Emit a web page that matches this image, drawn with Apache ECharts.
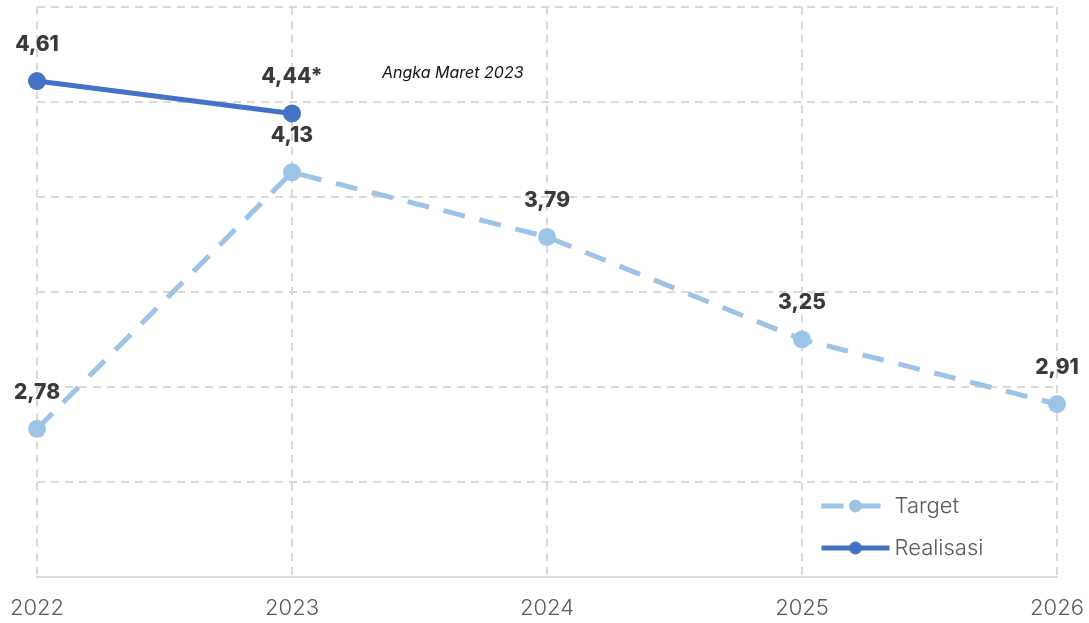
<!DOCTYPE html>
<html>
<head>
<meta charset="utf-8">
<script src="https://cdn.jsdelivr.net/npm/echarts@6/dist/echarts.min.js"></script>
<style>
html, body { margin: 0; padding: 0; background: #fff; }
#chart { width: 1089px; height: 623px; }
</style>
</head>
<body>
<div id="chart"></div>
<script>
var years = ['2022', '2023', '2024', '2025', '2026'];
var target = [2.78, 4.13, 3.79, 3.25, 2.91];
var realisasi = [4.61, 4.44, null, null, null];

var myChart = echarts.init(document.getElementById('chart'));
var font = 'Inter, "Open Sans", sans-serif';

function fmt(v) {
	return v.toFixed(2).replace('.', ',');
}

var labelStyle = {
	show: true,
	position: 'top',
	distance: 17,
	fontFamily: font,
	fontWeight: 800,
	fontSize: 21,
	color: '#3a3a3a'
};

option = {
	grid: {
		left: 37,
		right: 32,
		top: 7,
		bottom: 46
	},
	//图例
	legend: {
		orient: 'vertical',
		left: 814,
		top: 490,
		itemWidth: 68,
		itemHeight: 16,
		itemGap: 20,
		lineStyle: { width: 5 },
		textStyle: {
			fontFamily: font,
			fontSize: 22,
			fontWeight: 300,
			color: '#595959'
		},
		data: ['Target', 'Realisasi']
	},
	xAxis: {
		type: 'category',
		data: years,
		boundaryGap: false,
		axisLine: { lineStyle: { color: '#d9d9d9', width: 2 } },
		axisTick: { show: false },
		axisLabel: {
			fontFamily: font,
			fontSize: 22,
			fontWeight: 300,
			color: '#595959',
			margin: 20
		},
		splitLine: {
			show: true,
			lineStyle: { color: '#d9d9d9', width: 2, type: [8, 6] }
		}
	},
	yAxis: {
		type: 'value',
		min: 2,
		max: 5,
		interval: 0.5,
		axisLine: { show: false },
		axisTick: { show: false },
		axisLabel: { show: false },
		splitLine: {
			lineStyle: { color: '#d9d9d9', width: 2, type: [8, 6] }
		}
	},
	graphic: [{
		type: 'text',
		left: 382,
		top: 65,
		style: {
			text: 'Angka Maret 2023',
			fontFamily: font,
			fontStyle: 'italic',
			fontSize: 16,
			fill: '#111'
		}
	}],
	series: [{
		name: 'Target',
		type: 'line',
		data: target,
		symbol: 'circle',
		symbolSize: 18,
		color: '#9dc3e6',
		lineStyle: { width: 5, type: [22, 15], color: '#9dc3e6' },
		label: Object.assign({}, labelStyle, {
			formatter: function(p) { return fmt(p.value); }
		}),
		z: 2
	}, {
		name: 'Realisasi',
		type: 'line',
		data: realisasi,
		symbol: 'circle',
		symbolSize: 18,
		color: '#4472c4',
		lineStyle: { width: 5, color: '#4472c4' },
		label: Object.assign({}, labelStyle, {
			formatter: function(p) {
				return fmt(p.value) + (p.dataIndex == 1 ? '*' : '');
			}
		}),
		z: 3
	}]
};

myChart.setOption(option);
</script>
</body>
</html>
